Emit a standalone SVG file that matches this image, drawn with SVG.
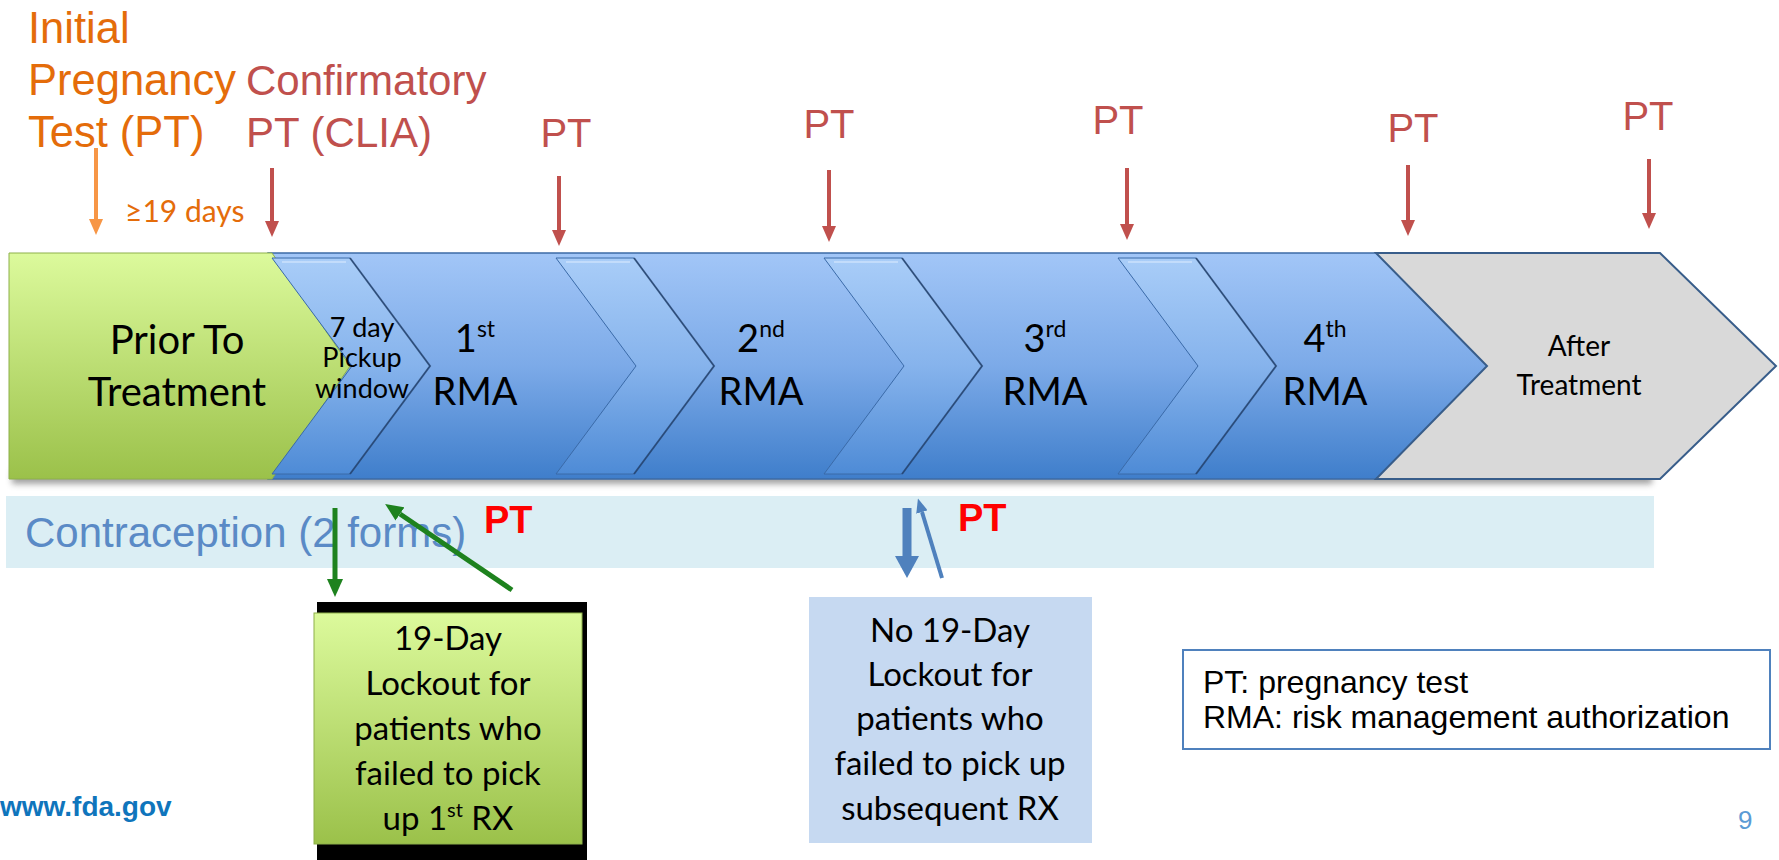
<svg xmlns="http://www.w3.org/2000/svg" width="1779" height="860" viewBox="0 0 1779 860">
<defs>
<style>
.sans{font-family:"Liberation Sans",Arial,sans-serif}
.cal{font-family:Lato,"Open Sans",sans-serif}
.orange{fill:#E46C0A}
.dred{fill:#C0504D}
.blk{fill:#000}
.mid{text-anchor:middle}
.chev{fill:url(#gChev);stroke:#3A6AA8;stroke-width:1}
.edge{fill:none;stroke:#1F3B63;stroke-width:2;stroke-opacity:.7}
.hl{fill:none;stroke:#C9E0FB;stroke-width:2;stroke-opacity:.8}
</style>
<linearGradient id="gBand" x1="0" y1="0" x2="0" y2="1">
<stop offset="0" stop-color="#A2C6F7"/>
<stop offset="0.5" stop-color="#7CAAE8"/>
<stop offset="1" stop-color="#3F7ECB"/>
</linearGradient>
<linearGradient id="gChev" x1="0" y1="0" x2="0" y2="1">
<stop offset="0" stop-color="#A9CDF8"/>
<stop offset="0.5" stop-color="#86B3EC"/>
<stop offset="1" stop-color="#4E8BD6"/>
</linearGradient>
<linearGradient id="gGreen" x1="0" y1="0" x2="0" y2="1">
<stop offset="0" stop-color="#DCFA9C"/>
<stop offset="1" stop-color="#9BC14A"/>
</linearGradient>
<filter id="blur" x="-5%" y="-50%" width="110%" height="200%"><feGaussianBlur stdDeviation="3"/></filter>
<marker id="ahRed" markerWidth="16" markerHeight="14" refX="0" refY="7" orient="auto" markerUnits="userSpaceOnUse"><path d="M0,0 L16,7 L0,14 z" fill="#C0504D"/></marker>
<marker id="ahOrange" markerWidth="16" markerHeight="14" refX="0" refY="7" orient="auto" markerUnits="userSpaceOnUse"><path d="M0,0 L16,7 L0,14 z" fill="#F79646"/></marker>
<marker id="ahGreen" markerWidth="18" markerHeight="16" refX="0" refY="8" orient="auto" markerUnits="userSpaceOnUse"><path d="M0,0 L18,8 L0,16 z" fill="#1E821E"/></marker>
<marker id="ahBlueBig" markerWidth="22" markerHeight="24" refX="0" refY="12" orient="auto" markerUnits="userSpaceOnUse"><path d="M0,0 L22,12 L0,24 z" fill="#4F81BD"/></marker>
<marker id="ahBlue" markerWidth="14" markerHeight="12" refX="0" refY="6" orient="auto" markerUnits="userSpaceOnUse"><path d="M0,0 L14,6 L0,12 z" fill="#4F81BD"/></marker>
</defs>
<rect width="1779" height="860" fill="#fff"/>

<!-- contraception band -->
<g id="contraception">
<rect x="6" y="496" width="1648" height="72" fill="#DBEEF4"/>
<text class="sans" x="25" y="547" font-size="42" fill="#5A8AC6">Contraception (2 forms)</text>
</g>

<!-- shadow under band -->
<rect x="12" y="470" width="1640" height="14" fill="#555" opacity=".55" filter="url(#blur)"/>

<!-- blue band -->
<g id="band">
<rect x="268" y="253" width="1232" height="226" fill="url(#gBand)" stroke="#3D6BA6" stroke-width="1.5"/>
</g>

<g id="prior">
<polygon points="9,253 272,253 350,366 272,479 9,479" fill="url(#gGreen)" stroke="#8DB04A" stroke-width="1"/>
<text class="cal mid blk" x="177" y="354" font-size="40">Prior To</text>
<text class="cal mid blk" x="177" y="406" font-size="40">Treatment</text>
</g>

<g id="pickup">
<polygon class="chev" points="272,258 350,258 430,366 350,474 272,474 352,366"/>
<polyline class="hl" points="282,262 346,262"/>
<polyline class="edge" points="350,258 430,366 350,474"/>
<text class="cal mid blk" x="362" y="337" font-size="27">7 day</text>
<text class="cal mid blk" x="362" y="367" font-size="27">Pickup</text>
<text class="cal mid blk" x="362" y="398" font-size="27">window</text>
</g>

<g id="rma1">
<text class="cal mid blk" x="475" y="352" font-size="38">1<tspan font-size="23" dy="-15">st</tspan></text>
<text class="cal mid blk" x="475" y="405" font-size="38">RMA</text>
</g>

<g id="chev2">
<polygon class="chev" points="556,258 634,258 714,366 634,474 556,474 636,366"/>
<polyline class="hl" points="566,262 630,262"/>
<polyline class="edge" points="634,258 714,366 634,474"/>
</g>

<g id="rma2">
<text class="cal mid blk" x="761" y="352" font-size="38">2<tspan font-size="23" dy="-15">nd</tspan></text>
<text class="cal mid blk" x="761" y="405" font-size="38">RMA</text>
</g>

<g id="chev3">
<polygon class="chev" points="824,258 902,258 982,366 902,474 824,474 904,366"/>
<polyline class="hl" points="834,262 898,262"/>
<polyline class="edge" points="902,258 982,366 902,474"/>
</g>

<g id="rma3">
<text class="cal mid blk" x="1045" y="352" font-size="38">3<tspan font-size="23" dy="-15">rd</tspan></text>
<text class="cal mid blk" x="1045" y="405" font-size="38">RMA</text>
</g>

<g id="chev4">
<polygon class="chev" points="1118,258 1196,258 1276,366 1196,474 1118,474 1198,366"/>
<polyline class="hl" points="1128,262 1192,262"/>
<polyline class="edge" points="1196,258 1276,366 1196,474"/>
</g>

<g id="rma4">
<text class="cal mid blk" x="1325" y="352" font-size="38">4<tspan font-size="23" dy="-15">th</tspan></text>
<text class="cal mid blk" x="1325" y="405" font-size="38">RMA</text>
</g>

<g id="after">
<polygon points="1376,253 1660,253 1776,366 1660,479 1376,479 1487,366" fill="#D9D9D9" stroke="#385D8A" stroke-width="2"/>
<text class="cal mid blk" x="1579" y="356" font-size="28">After</text>
<text class="cal mid blk" x="1579" y="395" font-size="28">Treatment</text>
</g>

<!-- top labels -->
<g id="initial-pt">
<text class="sans orange" x="28" y="43" font-size="43.5">Initial</text>
<text class="sans orange" x="28" y="95" font-size="43.5">Pregnancy</text>
<text class="sans orange" x="28" y="147" font-size="43.5">Test (PT)</text>
</g>
<g id="confirm-pt">
<text class="sans dred" x="246" y="95" font-size="42">Confirmatory</text>
<text class="sans dred" x="246" y="147" font-size="42">PT (CLIA)</text>
</g>
<text id="days" class="cal orange" x="125" y="222" font-size="30">≥19 days</text>
<g id="pt-labels">
<text class="sans dred mid" x="566" y="147" font-size="40">PT</text>
<text class="sans dred mid" x="829" y="138" font-size="40">PT</text>
<text class="sans dred mid" x="1118" y="134" font-size="40">PT</text>
<text class="sans dred mid" x="1413" y="142" font-size="40">PT</text>
<text class="sans dred mid" x="1648" y="130" font-size="40">PT</text>
</g>

<g id="pt-bold">
<text class="sans" x="484" y="533" font-size="38" font-weight="bold" fill="#FF0000">PT</text>
<text class="sans" x="958" y="531" font-size="38" font-weight="bold" fill="#FF0000">PT</text>
</g>

<g id="lockout">
<rect x="317" y="602" width="270" height="258" fill="#000"/>
<rect x="314" y="613" width="268" height="231" fill="url(#gGreen)" stroke="#8DB04A" stroke-width="1"/>
<text class="cal mid blk" x="448" y="650" font-size="33">19-Day</text>
<text class="cal mid blk" x="448" y="695" font-size="33">Lockout for</text>
<text class="cal mid blk" x="448" y="740" font-size="33">patients who</text>
<text class="cal mid blk" x="448" y="785" font-size="33">failed to pick</text>
<text class="cal mid blk" x="448" y="830" font-size="33">up 1<tspan font-size="20" dy="-13">st</tspan><tspan dy="13"> RX</tspan></text>
</g>

<g id="no-lockout">
<rect x="809" y="597" width="283" height="246" fill="#C6D9F1"/>
<text class="cal mid blk" x="950" y="642" font-size="33">No 19-Day</text>
<text class="cal mid blk" x="950" y="686" font-size="33">Lockout for</text>
<text class="cal mid blk" x="950" y="730" font-size="33">patients who</text>
<text class="cal mid blk" x="950" y="775" font-size="33">failed to pick up</text>
<text class="cal mid blk" x="950" y="820" font-size="33">subsequent RX</text>
</g>

<g id="legend">
<rect x="1183" y="650" width="587" height="99" fill="#fff" stroke="#4F81BD" stroke-width="2"/>
<text class="sans blk" x="1203" y="693" font-size="32">PT: pregnancy test</text>
<text class="sans blk" x="1203" y="728" font-size="32">RMA: risk management authorization</text>
</g>

<text id="url" class="sans" x="0" y="816" font-size="28" font-weight="bold" fill="#0F75BC">www.fda.gov</text>
<text id="page" class="sans" x="1738" y="829" font-size="26" fill="#5B9BD5">9</text>

<g id="connectors">
<line x1="96" y1="148" x2="96" y2="219" stroke="#F79646" stroke-width="4" marker-end="url(#ahOrange)"/>
<line x1="272" y1="168" x2="272" y2="221" stroke="#C0504D" stroke-width="4" marker-end="url(#ahRed)"/>
<line x1="559" y1="176" x2="559" y2="230" stroke="#C0504D" stroke-width="4" marker-end="url(#ahRed)"/>
<line x1="829" y1="170" x2="829" y2="226" stroke="#C0504D" stroke-width="4" marker-end="url(#ahRed)"/>
<line x1="1127" y1="168" x2="1127" y2="224" stroke="#C0504D" stroke-width="4" marker-end="url(#ahRed)"/>
<line x1="1408" y1="165" x2="1408" y2="220" stroke="#C0504D" stroke-width="4" marker-end="url(#ahRed)"/>
<line x1="1649" y1="159" x2="1649" y2="213" stroke="#C0504D" stroke-width="4" marker-end="url(#ahRed)"/>
<line x1="335" y1="508" x2="335" y2="579" stroke="#1E821E" stroke-width="5" marker-end="url(#ahGreen)"/>
<line x1="512" y1="590" x2="400" y2="514" stroke="#1E821E" stroke-width="5" marker-end="url(#ahGreen)"/>
<line x1="907" y1="508" x2="907" y2="556" stroke="#4F81BD" stroke-width="9" marker-end="url(#ahBlueBig)"/>
<line x1="942" y1="578" x2="922" y2="512" stroke="#4F81BD" stroke-width="4" marker-end="url(#ahBlue)"/>
</g>
</svg>
